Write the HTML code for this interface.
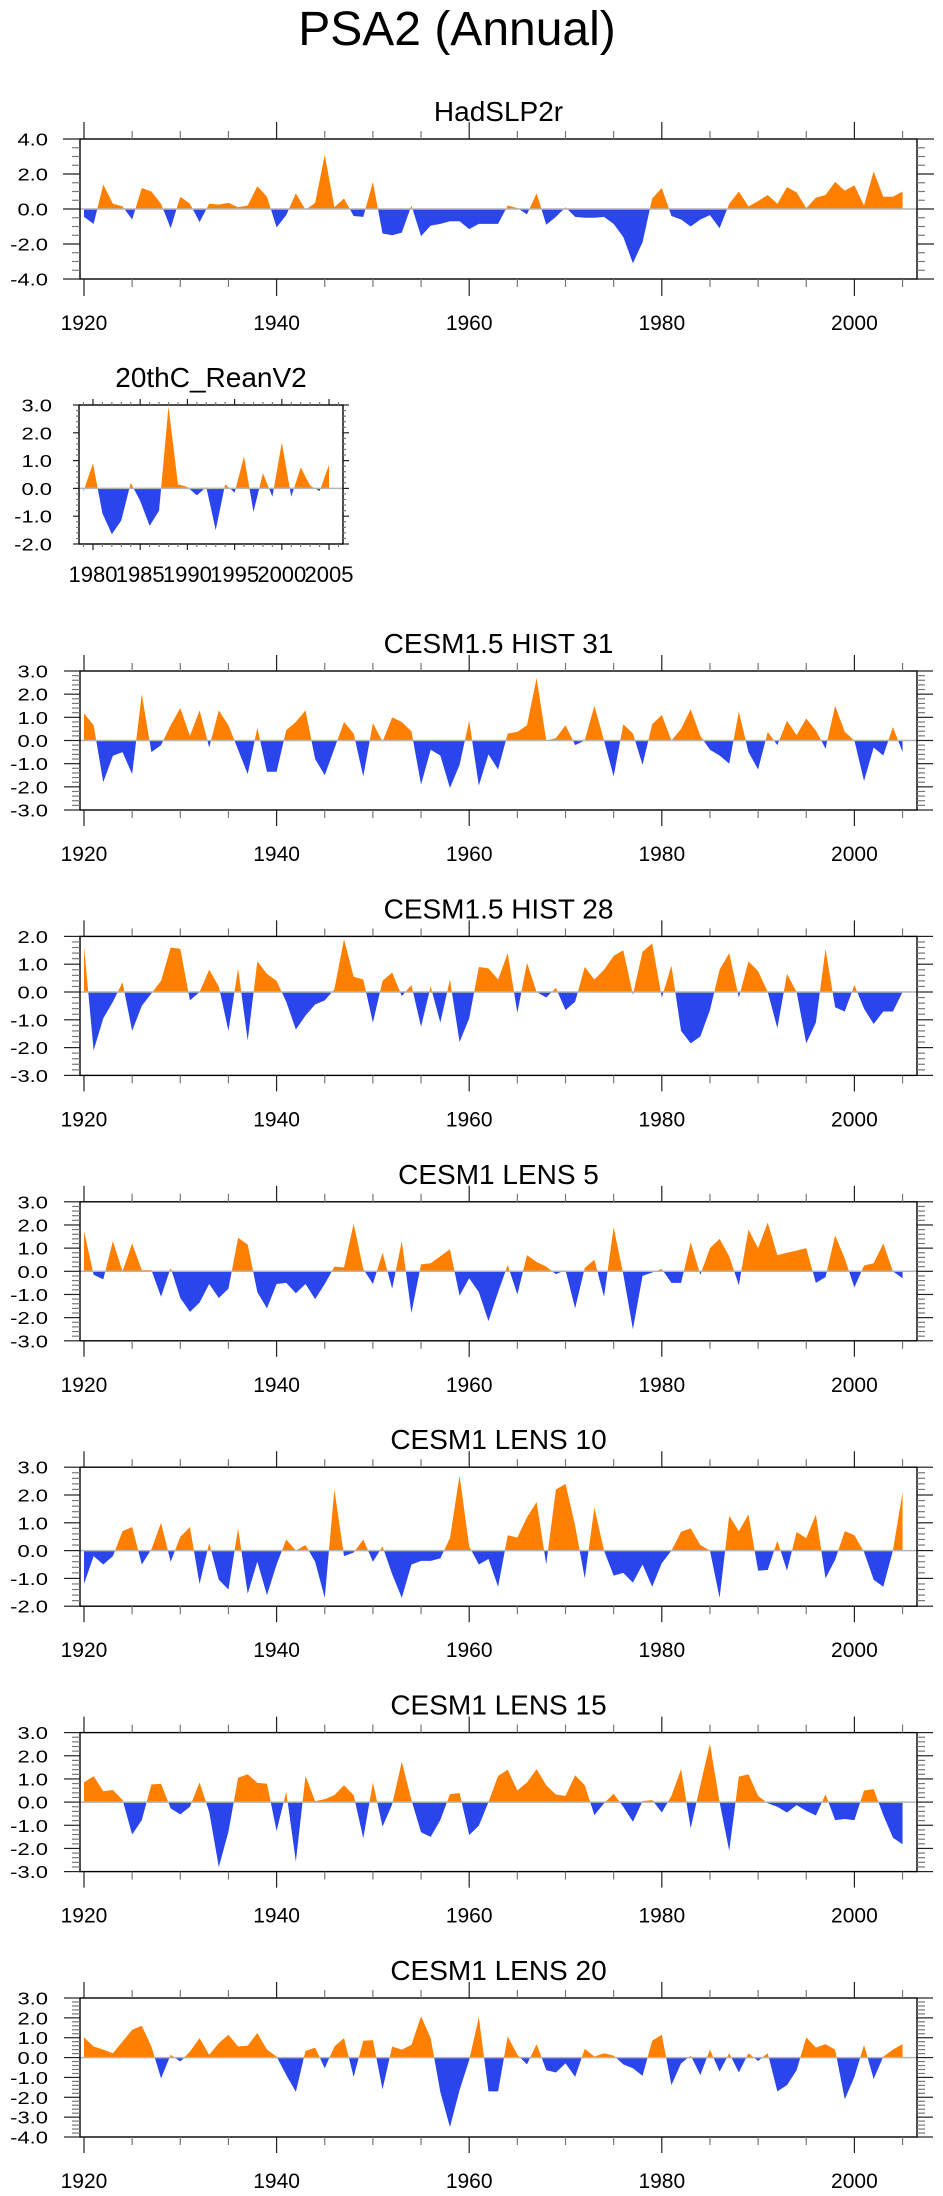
<!DOCTYPE html>
<html><head><meta charset="utf-8"><title>PSA2 (Annual)</title>
<style>
html,body{margin:0;padding:0;background:#fff;}
svg{display:block;font-family:"Liberation Sans",Arial,sans-serif;}
</style></head>
<body>
<svg id="chart" width="943" height="2196" viewBox="0 0 943 2196" xmlns="http://www.w3.org/2000/svg">
<rect x="0" y="0" width="943" height="2196" fill="#fff"/>
<text x="457" y="45" font-size="48" text-anchor="middle" fill="#000">PSA2 (Annual)</text>
</svg>
<script>
const fullStartYear = 1920;
const reanStartYear = 1979;
const hadslp2r = [-0.45,-0.85,1.4,0.3,0.15,-0.6,1.2,1.0,0.3,-1.1,0.7,0.3,-0.75,0.3,0.25,0.35,0.1,0.2,1.3,0.7,-1.05,-0.35,0.9,-0.05,0.35,3.1,0.1,0.6,-0.4,-0.45,1.55,-1.4,-1.5,-1.35,0.2,-1.55,-0.95,-0.85,-0.7,-0.7,-1.15,-0.85,-0.85,-0.85,0.2,0.05,-0.3,0.9,-0.9,-0.45,0.1,-0.45,-0.5,-0.5,-0.45,-0.85,-1.6,-3.1,-1.9,0.6,1.2,-0.4,-0.6,-1.0,-0.6,-0.35,-1.1,0.3,1.0,0.15,0.45,0.8,0.3,1.25,0.95,0.05,0.65,0.8,1.55,1.05,1.35,0.2,2.15,0.7,0.7,1.0];
const rean20c = [-0.1,0.9,-0.9,-1.65,-1.15,0.2,-0.45,-1.35,-0.8,2.95,0.15,0.05,-0.25,0.05,-1.5,0.15,-0.15,1.15,-0.85,0.55,-0.3,1.65,-0.3,0.75,0.1,-0.1,0.85];
const hist31 = [1.17,0.66,-1.8,-0.66,-0.5,-1.45,2.0,-0.5,-0.2,0.66,1.4,0.2,1.3,-0.3,1.3,0.66,-0.4,-1.45,0.55,-1.35,-1.35,0.45,0.8,1.3,-0.8,-1.5,-0.35,0.8,0.3,-1.55,0.75,-0.05,1.0,0.8,0.4,-1.9,-0.4,-0.65,-2.05,-1.05,0.85,-1.95,-0.6,-1.25,0.3,0.37,0.66,2.7,0.0,0.1,0.66,-0.2,0.0,1.5,0.0,-1.55,0.7,0.3,-1.05,0.7,1.1,0.0,0.5,1.35,0.2,-0.4,-0.65,-1.0,1.25,-0.5,-1.25,0.37,-0.2,0.85,0.23,0.95,0.43,-0.35,1.5,0.37,0.0,-1.75,-0.3,-0.65,0.58,-0.5];
const hist28 = [1.65,-2.1,-0.95,-0.35,0.35,-1.4,-0.5,-0.05,0.4,1.6,1.55,-0.3,0.0,0.8,0.2,-1.4,0.85,-1.75,1.1,0.65,0.4,-0.35,-1.35,-0.85,-0.45,-0.3,0.1,1.9,0.55,0.45,-1.1,0.4,0.7,-0.15,0.25,-1.25,0.2,-1.1,0.45,-1.8,-0.95,0.9,0.85,0.45,1.4,-0.75,1.05,0.0,-0.2,0.15,-0.65,-0.35,0.9,0.45,0.8,1.3,1.5,-0.1,1.45,1.75,-0.2,0.95,-1.4,-1.85,-1.6,-0.65,0.8,1.4,-0.2,1.1,0.75,0.0,-1.3,0.65,0.0,-1.85,-1.1,1.55,-0.55,-0.7,0.25,-0.6,-1.15,-0.7,-0.7,0.0];
const lens5 = [1.75,-0.15,-0.35,1.3,0.0,1.2,0.05,0.05,-1.1,0.15,-1.15,-1.75,-1.35,-0.55,-1.15,-0.75,1.45,1.15,-0.9,-1.6,-0.55,-0.5,-0.95,-0.55,-1.2,-0.55,0.2,0.17,2.05,0.1,-0.55,0.8,-0.75,1.3,-1.8,0.3,0.35,0.65,0.95,-1.05,-0.3,-0.9,-2.15,-0.9,0.27,-1.0,0.7,0.4,0.2,-0.12,0.05,-1.6,0.15,0.5,-1.1,1.9,-0.13,-2.5,-0.2,-0.05,0.1,-0.5,-0.5,1.25,-0.15,1.0,1.4,0.65,-0.6,1.8,1.0,2.1,0.7,0.8,0.9,1.0,-0.5,-0.25,1.55,0.55,-0.7,0.25,0.35,1.2,0.0,-0.3];
const lens10 = [-1.2,-0.2,-0.5,-0.2,0.7,0.85,-0.5,0.05,1.0,-0.4,0.5,0.85,-1.2,0.27,-1.05,-1.4,0.8,-1.55,-0.4,-1.6,-0.5,0.4,0.0,0.2,-0.4,-1.7,2.2,-0.2,-0.07,0.4,-0.4,0.15,-0.85,-1.7,-0.5,-0.37,-0.37,-0.28,0.45,2.7,0.15,-0.5,-0.3,-1.3,0.55,0.47,1.2,1.75,-0.5,2.2,2.4,0.9,-1.0,1.55,0.0,-0.9,-0.8,-1.15,-0.5,-1.3,-0.45,0.0,0.68,0.8,0.2,0.0,-1.7,1.25,0.7,1.3,-0.72,-0.7,0.35,-0.72,0.67,0.45,1.3,-1.0,-0.33,0.7,0.55,-0.05,-1.05,-1.3,0.0,2.1];
const lens15 = [0.85,1.12,0.47,0.52,0.1,-1.4,-0.78,0.76,0.79,-0.27,-0.53,-0.2,0.85,-0.42,-2.8,-1.28,1.05,1.2,0.83,0.8,-1.25,0.45,-2.57,1.13,0.04,0.13,0.3,0.73,0.3,-1.56,0.85,-1.06,-0.1,1.74,0.09,-1.3,-1.5,-0.78,0.34,0.39,-1.42,-1.02,0.0,1.13,1.4,0.5,0.85,1.42,0.73,0.33,0.27,1.16,0.73,-0.56,-0.05,0.36,-0.2,-0.85,0.04,0.09,-0.45,0.27,1.42,-1.13,0.73,2.52,0.0,-2.1,1.1,1.2,0.27,-0.05,-0.2,-0.45,-0.13,-0.38,-0.58,0.34,-0.78,-0.73,-0.78,0.5,0.56,-0.56,-1.54,-1.82];
const lens20 = [1.02,0.56,0.4,0.22,0.81,1.4,1.6,0.56,-1.05,0.14,-0.2,0.3,0.98,0.14,0.73,1.15,0.56,0.6,1.24,0.4,0.05,-0.88,-1.73,0.34,0.5,-0.54,0.56,0.98,-0.97,0.85,0.88,-1.6,0.56,0.4,0.64,2.08,0.98,-1.73,-3.5,-1.64,-0.12,2.03,-1.7,-1.7,1.07,0.14,-0.34,0.68,-0.63,-0.75,-0.29,-0.97,0.44,0.05,0.22,0.1,-0.34,-0.54,-0.92,0.85,1.15,-1.39,-0.29,0.1,-0.88,0.4,-0.71,0.22,-0.75,0.22,-0.17,0.22,-1.7,-1.39,-0.63,1.02,0.5,0.68,0.4,-2.1,-0.97,0.64,-1.08,0.05,0.4,0.68];
const fullXTickLabels = ["1920","1940","1960","1980","2000"];
const reanXTickLabels = ["1980","1985","1990","1995","2000","2005"];

const NS = "http://www.w3.org/2000/svg";
const svg = document.getElementById("chart");
function mk(tag, attrs, parent){
  const e = document.createElementNS(NS, tag);
  for (const k in attrs) e.setAttribute(k, attrs[k]);
  (parent || svg).appendChild(e);
  return e;
}
const ORANGE = "#ff8000", BLUE = "#2a45ec";
const fullTops = [671, 936.4, 1201.8, 1467.2, 1732.6, 1998];

const panels = [
  {key:"hadslp2r", title:"HadSLP2r", data:hadslp2r, start:fullStartYear, left:80, right:917, top:139, h:140, yMin:-4, yMax:4, major:2, minor:0.5, x0:1919.585, x1:2006.5, xMajor:20, xMinor:5, labels:fullXTickLabels, firstLabel:1920, tickL:17, tickS:8, labOff:51, labSize:21},
  {key:"rean20c", title:"20thC_ReanV2", data:rean20c, start:reanStartYear, left:79, right:343, top:405, h:139, yMin:-2, yMax:3, major:1, minor:0.2, x0:1978.52, x1:2006.48, xMajor:5, xMinor:1, labels:reanXTickLabels, firstLabel:1980, tickL:6, tickS:3, labOff:38, labSize:22}
];
const fullKeys = ["hist31","hist28","lens5","lens10","lens15","lens20"];
const fullTitles = ["CESM1.5 HIST 31","CESM1.5 HIST 28","CESM1 LENS 5","CESM1 LENS 10","CESM1 LENS 15","CESM1 LENS 20"];
const fullData = [hist31, hist28, lens5, lens10, lens15, lens20];
const fullYMin = [-3,-3,-3,-2,-3,-4];
const fullYMax = [3,2,3,3,3,3];
for (let i = 0; i < 6; i++){
  panels.push({key:fullKeys[i], title:fullTitles[i], data:fullData[i], top:fullTops[i], yMin:fullYMin[i], yMax:fullYMax[i], start:fullStartYear, left:80, right:917, h:139, major:1, minor:0.2, x0:1919.585, x1:2006.5, xMajor:20, xMinor:5, labels:fullXTickLabels, firstLabel:1920, tickL:16, tickS:8, labOff:51, labSize:21});
}

panels.forEach(function(p, pi){
  const g = mk("g", {});
  
  
  const xs = y => p.left + (y - p.x0) / (p.x1 - p.x0) * (p.right - p.left);
  const ys = v => p.top + (p.yMax - v) / (p.yMax - p.yMin) * p.h;
  const cx = (p.left + p.right) / 2;
  const t = mk("text", {x:cx, y:p.top - 18, "font-size":28, "text-anchor":"middle", fill:"#000"}, g);
  t.textContent = p.title;
  
  
  const z = ys(0);
  let d = "M" + xs(p.start) + "," + z;
  p.data.forEach((v, i) => { d += " L" + xs(p.start + i).toFixed(2) + "," + ys(v).toFixed(2); });
  d += " L" + xs(p.start + p.data.length - 1).toFixed(2) + "," + z + " Z";
  const cpA = mk("clipPath", {id:"ca" + pi}, g);
  mk("rect", {x:p.left, y:p.top - 5, width:p.right - p.left, height:z - p.top + 5}, cpA);
  const cpB = mk("clipPath", {id:"cb" + pi}, g);
  mk("rect", {x:p.left, y:z, width:p.right - p.left, height:p.top + p.h - z + 5}, cpB);
  const pos = mk("path", {d:d, fill:ORANGE, "clip-path":"url(#ca" + pi + ")"}, g);
  
  
  const neg = mk("path", {d:d, fill:BLUE, "clip-path":"url(#cb" + pi + ")"}, g);
  
  
  const zl = mk("line", {x1:p.left, x2:p.right, y1:z, y2:z, stroke:"#b4b4b4", "stroke-width":1.5}, g);
  
  
  const fr = mk("rect", {x:p.left, y:p.top, width:p.right - p.left, height:p.h, fill:"none", stroke:"#000", "stroke-width":1.4}, g);
  
  
  const nMinor = Math.round((p.yMax - p.yMin) / p.minor);
  for (let k = 0; k <= nMinor; k++){
    const v = p.yMin + k * p.minor;
    const isMajor = Math.abs(v / p.major - Math.round(v / p.major)) < 1e-6;
    const L = isMajor ? p.tickL : p.tickS;
    const y = ys(v);
    mk("line", {x1:p.left - L, x2:p.left, y1:y, y2:y, stroke:isMajor ? "#222" : "#777", "stroke-width":1.2}, g);
    mk("line", {x1:p.right, x2:p.right + L, y1:y, y2:y, stroke:isMajor ? "#222" : "#777", "stroke-width":1.2}, g);
    if (isMajor){
      const lbl = (Math.abs(v) < 1e-9 ? 0 : v).toFixed(1);
      const tx = mk("text", {x:(p.left - (pi === 1 ? 27 : 32)) / 1.22, y:y + 6.5, "font-size":18, "text-anchor":"end", fill:"#000", transform:"scale(1.22,1)"}, g);
      tx.textContent = lbl;
      
      
    }
  }
  for (let yr = Math.ceil(p.x0); yr <= p.x1; yr++){
    if (yr % p.xMinor !== 0) continue;
    const isMajor = yr % p.xMajor === 0;
    const L = isMajor ? p.tickL : p.tickS;
    const x = xs(yr);
    mk("line", {x1:x, x2:x, y1:p.top - L, y2:p.top, stroke:isMajor ? "#222" : "#777", "stroke-width":1.2}, g);
    mk("line", {x1:x, x2:x, y1:p.top + p.h, y2:p.top + p.h + L, stroke:isMajor ? "#222" : "#777", "stroke-width":1.2}, g);
  }
  p.labels.forEach((s, i) => {
    const tx = mk("text", {x:xs(p.firstLabel + i * p.xMajor), y:p.top + p.h + p.labOff, "font-size":p.labSize, "text-anchor":"middle", fill:"#000"}, g);
    tx.textContent = s;
    
    
  });
});
</script>
</body></html>
